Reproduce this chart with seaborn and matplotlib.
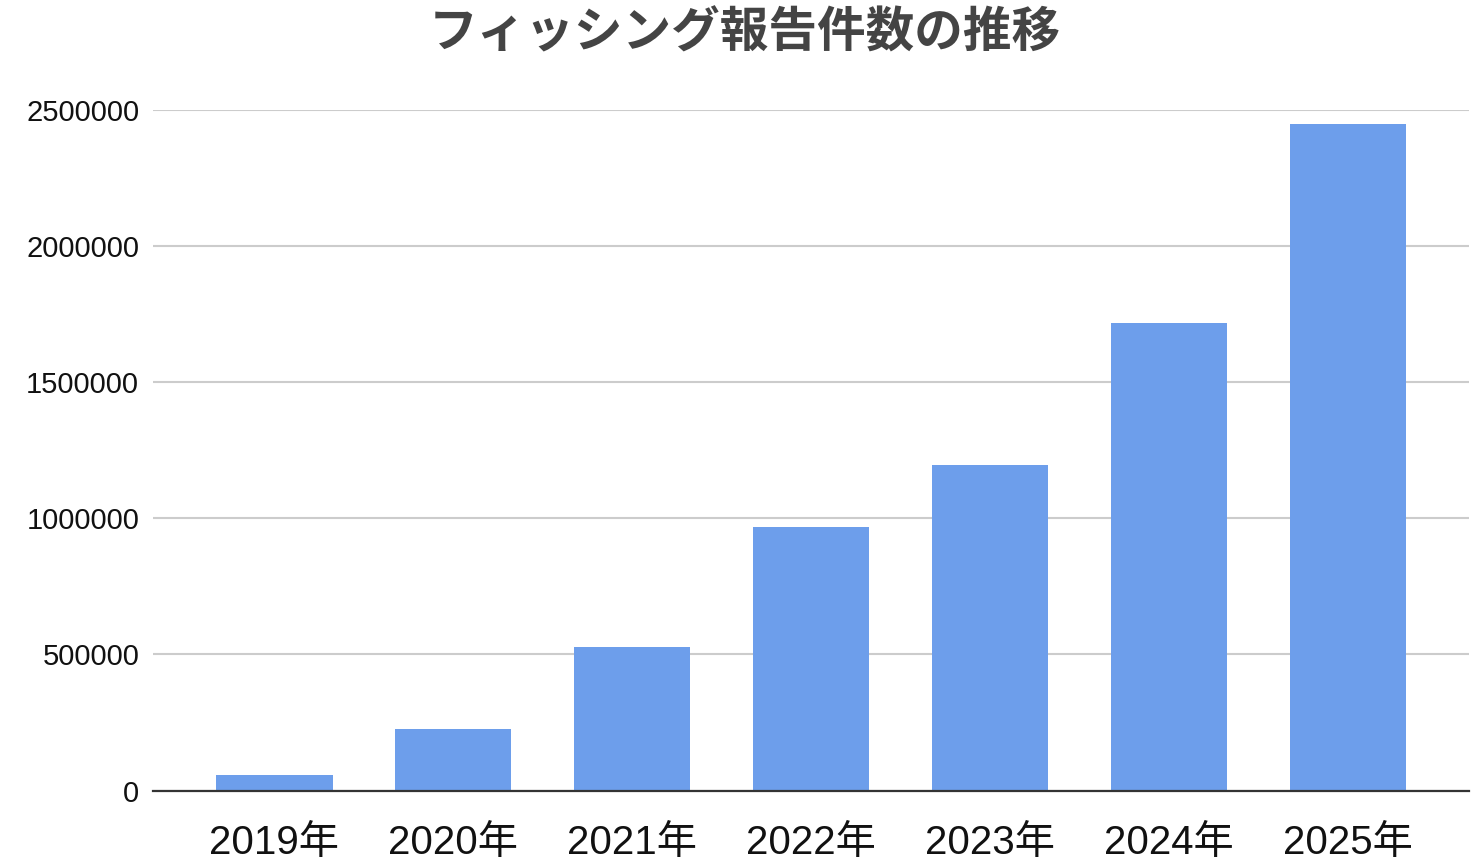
import matplotlib
import pandas as pd
import seaborn as sns

matplotlib.use("Agg")
import matplotlib.pyplot as plt


YEARS = ["2019年", "2020年", "2021年", "2022年", "2023年", "2024年", "2025年"]
REPORTS = [55787, 224676, 526504, 968832, 1196390, 1718036, 2446000]
Y_TICKS = [0, 500000, 1000000, 1500000, 2000000, 2500000]

TITLE = "フィッシング報告件数の推移"
BAR_COLOR = "#6d9eeb"
FONTS = ["Liberation Sans", "Noto Sans CJK JP", "DejaVu Sans"]


def main() -> None:
    sns.set_theme(style="white")
    plt.rcParams["font.family"] = FONTS

    df = pd.DataFrame({"year": YEARS, "reports": REPORTS})

    fig = plt.figure(figsize=(14.72, 8.64), dpi=100)
    ax = fig.add_axes([0.104, 0.085, 0.894, 0.788])

    sns.barplot(data=df, x="year", y="reports", color=BAR_COLOR, saturation=1,
                width=0.65, linewidth=0, ax=ax, zorder=3)

    ax.set_xlim(-0.678, len(YEARS) - 1 + 0.678)
    ax.set_ylim(0, 2500000)
    ax.set_yticks(Y_TICKS)
    ax.set_yticklabels([str(v) for v in Y_TICKS])
    ax.yaxis.grid(True, color="#cccccc", linewidth=1.5, zorder=0)
    ax.xaxis.grid(False)

    for side in ["top", "right", "left"]:
        ax.spines[side].set_visible(False)
    ax.spines["bottom"].set_color("#333333")
    ax.spines["bottom"].set_linewidth(1.6)
    ax.spines["bottom"].set_zorder(4)

    ax.tick_params(axis="y", labelsize=21, length=0, pad=10, colors="#111111")
    ax.tick_params(axis="x", labelsize=29, length=0, pad=24, colors="#111111")
    ax.set_xlabel("")
    ax.set_ylabel("")

    fig.suptitle(TITLE, x=0.506, y=0.99, fontsize=35, fontweight="bold",
                 color="#444444", family=["Noto Sans CJK JP", "DejaVu Sans"])

    fig.savefig("out.png", dpi=100, facecolor="white")
    plt.close(fig)


if __name__ == "__main__":
    main()
